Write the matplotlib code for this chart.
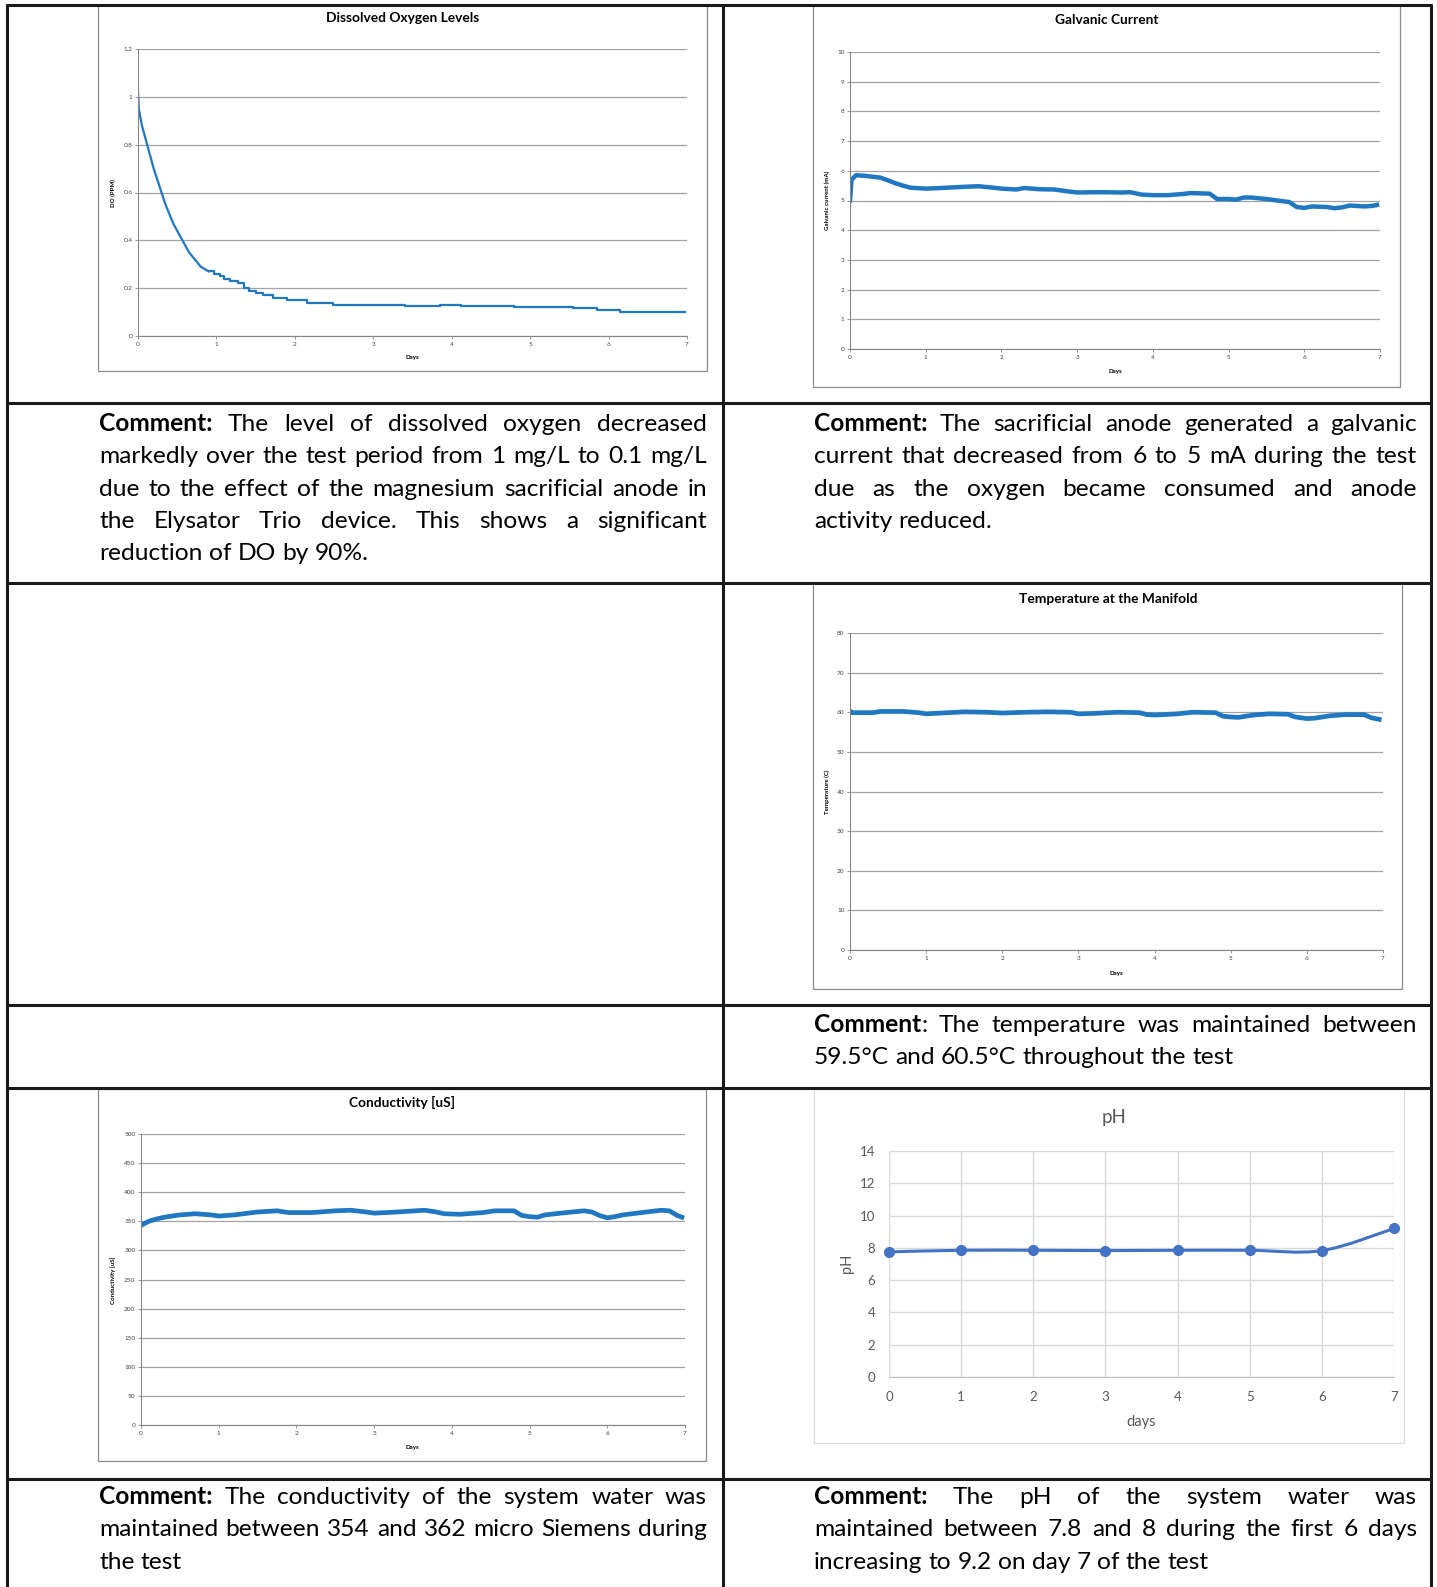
import matplotlib
matplotlib.use('Agg')
import matplotlib.pyplot as plt
from matplotlib.patches import Rectangle, PathPatch
from matplotlib.path import Path

W, H = 1437, 1587
FONT = 'Lato'

# ---- values ----
days = [0, 1, 2, 3, 4, 5, 6, 7]

# dissolved oxygen, smooth decay part then stepped part
do_curve_days = [0.00, 0.01, 0.05, 0.10, 0.15, 0.20, 0.25, 0.30, 0.35, 0.40, 0.45, 0.50,
                 0.55, 0.60, 0.65, 0.70, 0.75, 0.80, 0.85, 0.90]
do_curve_ppm = [1.02, 0.95, 0.88, 0.82, 0.76, 0.70, 0.65, 0.60, 0.55, 0.51, 0.47, 0.44,
                0.41, 0.38, 0.35, 0.33, 0.31, 0.29, 0.28, 0.27]
do_step_days = [0.90, 0.97, 1.04, 1.10, 1.17, 1.27, 1.35, 1.42, 1.50, 1.60, 1.72, 1.90,
                2.15, 2.48, 3.40, 3.85, 4.12, 4.80, 5.55, 5.85, 6.15, 6.97]
do_step_ppm = [0.27, 0.26, 0.25, 0.24, 0.23, 0.22, 0.20, 0.19, 0.18, 0.17, 0.16, 0.15,
               0.14, 0.13, 0.125, 0.13, 0.125, 0.12, 0.115, 0.11, 0.10, 0.10]

# galvanic current (mA)
gc_days = [0.00, 0.02, 0.08, 0.20, 0.30, 0.40, 0.50, 0.60, 0.70, 0.80, 1.00, 1.20, 1.50,
           1.70, 1.90, 2.00, 2.20, 2.30, 2.50, 2.70, 2.90, 3.00, 3.30, 3.60, 3.70, 3.85,
           4.00, 4.20, 4.40, 4.50, 4.75, 4.85, 5.00, 5.10, 5.20, 5.30, 5.50, 5.70, 5.80,
           5.90, 6.00, 6.10, 6.30, 6.40, 6.50, 6.60, 6.80, 6.90, 6.96]
gc_ma = [5.00, 5.70, 5.85, 5.83, 5.80, 5.77, 5.68, 5.58, 5.50, 5.43, 5.40, 5.42, 5.46,
         5.48, 5.43, 5.40, 5.37, 5.42, 5.38, 5.37, 5.30, 5.27, 5.28, 5.27, 5.28, 5.20,
         5.18, 5.18, 5.22, 5.25, 5.23, 5.05, 5.05, 5.03, 5.10, 5.10, 5.05, 4.98, 4.95,
         4.78, 4.75, 4.80, 4.78, 4.74, 4.77, 4.83, 4.80, 4.82, 4.85]

# temperature at the manifold (C)
tm_days = [0.00, 0.02, 0.10, 0.30, 0.40, 0.70, 0.90, 1.00, 1.20, 1.50, 1.80, 2.00, 2.30,
           2.60, 2.90, 3.00, 3.20, 3.50, 3.80, 3.90, 4.00, 4.30, 4.50, 4.80, 4.90, 5.00,
           5.10, 5.30, 5.50, 5.75, 5.85, 6.00, 6.10, 6.30, 6.50, 6.75, 6.85, 6.95]
tm_c = [60.3, 59.9, 59.9, 59.9, 60.2, 60.2, 59.9, 59.6, 59.8, 60.1, 60.0, 59.8, 60.0,
        60.1, 60.0, 59.6, 59.7, 60.0, 59.9, 59.4, 59.3, 59.6, 60.0, 59.9, 59.0, 58.8,
        58.7, 59.3, 59.6, 59.5, 58.8, 58.4, 58.5, 59.1, 59.4, 59.4, 58.6, 58.2]

# conductivity (uS)
cd_days = [0.00, 0.10, 0.20, 0.30, 0.50, 0.70, 0.90, 1.00, 1.20, 1.50, 1.75, 1.90, 2.20,
           2.50, 2.70, 2.90, 3.00, 3.30, 3.65, 3.80, 3.90, 4.10, 4.40, 4.55, 4.80, 4.90,
           5.00, 5.10, 5.20, 5.40, 5.70, 5.80, 5.90, 6.00, 6.10, 6.20, 6.50, 6.70, 6.80,
           6.90, 6.96]
cd_us = [343, 350, 354, 357, 361, 363, 361, 359, 361, 366, 368, 365, 365,
         368, 369, 366, 364, 366, 369, 366, 363, 362, 365, 368, 368, 360,
         358, 357, 361, 364, 368, 366, 360, 356, 358, 361, 366, 369, 368,
         360, 357]

# pH, one reading a day
ph_vals = [7.75, 7.85, 7.85, 7.83, 7.85, 7.85, 7.83, 9.2]

comments = {
    'do': ["**Comment:** The level of dissolved oxygen decreased",
           "markedly over the test period from 1 mg/L to 0.1 mg/L",
           "due to the effect of the magnesium sacrificial anode in",
           "the Elysator Trio device. This shows a significant",
           "reduction of DO by 90%."],
    'gc': ["**Comment:**  The sacrificial anode generated a galvanic",
           "current that decreased from 6 to 5 mA during the test",
           "due as the oxygen became consumed and anode",
           "activity reduced."],
    'tm': ["**Comment**:  The temperature was maintained between",
           "59.5°C and 60.5°C throughout the test"],
    'cd': ["**Comment:**  The conductivity of the system water was",
           "maintained between 354 and 362 micro Siemens during",
           "the test"],
    'ph': ["**Comment:**  The pH of the system water was",
           "maintained between 7.8 and 8 during the first 6 days",
           "increasing to 9.2 on day 7 of the test"],
}

BLUE = '#1f78c1'

fig = plt.figure(figsize=(W / 100, H / 100), dpi=100)
bg = fig.add_axes([0, 0, 1, 1])
bg.set_xlim(0, W)
bg.set_ylim(H, 0)
bg.axis('off')


def px_axes(x0, y0, x1, y1):
    ax = fig.add_axes([x0 / W, 1 - y1 / H, (x1 - x0) / W, (y1 - y0) / H])
    ax.set_facecolor('none')
    return ax


# table rules
for x in [7, 723, 1431]:
    bg.plot([x, x], [4, H], color='#1a1a1a', lw=2.2, solid_capstyle='butt', zorder=5)
for y in [5, 403, 583, 1005, 1088, 1479]:
    bg.plot([6, 1432], [y, y], color='#1a1a1a', lw=2.2, solid_capstyle='butt', zorder=5)

# chart frames
for (x0, y0, x1, y1, ec) in [(98, 5, 707, 371, '#8c8c8c'), (813, 5, 1400, 387, '#8c8c8c'),
                             (813, 583, 1402, 989, '#8c8c8c'), (98, 1089, 706, 1461, '#8c8c8c'),
                             (814, 1088, 1404, 1443, '#dcdcdc')]:
    bg.add_patch(Rectangle((x0, y0), x1 - x0, y1 - y0, facecolor='white', edgecolor=ec,
                           lw=0.9, zorder=1))


def excel_chart(box, yticks, ylabels, title, ylabel, title_xy, ylab_xy, days_xy):
    ax = px_axes(*box)
    ax.set_xlim(0, 7)
    ax.set_ylim(yticks[0], yticks[-1])
    ax.set_xticks(days)
    ax.set_yticks(yticks)
    ax.set_yticklabels(ylabels)
    for s in ['top', 'right']:
        ax.spines[s].set_visible(False)
    for s in ['left', 'bottom']:
        ax.spines[s].set_color('#868686')
        ax.spines[s].set_linewidth(0.8)
    ax.yaxis.grid(True, color='#a3a3a3', lw=0.9)
    ax.set_axisbelow(True)
    ax.tick_params(direction='out', length=2.5, width=0.6, color='#868686',
                   labelsize=4.6, pad=1.5, labelcolor='#404040')
    for lab in ax.get_xticklabels() + ax.get_yticklabels():
        lab.set_family(FONT)
    bg.text(title_xy[0], title_xy[1], title, ha='center', va='center', fontsize=9.9,
            fontweight='bold', family=FONT, zorder=3)
    bg.text(ylab_xy[0], ylab_xy[1], ylabel, ha='center', va='center', rotation=90,
            fontsize=4.4, fontweight='bold', family=FONT, zorder=3)
    bg.text(days_xy[0], days_xy[1], 'Days', ha='center', va='center', fontsize=4.4,
            fontweight='bold', family=FONT, zorder=3)
    return ax


# dissolved oxygen
ax1 = excel_chart((138, 49, 687, 336), [0, 0.2, 0.4, 0.6, 0.8, 1.0, 1.2],
                  ['0', '0.2', '0.4', '0.6', '0.8', '1', '1.2'],
                  'Dissolved Oxygen Levels', 'DO (PPM)', (403, 18), (113, 193), (412, 357))
ax1.plot(do_curve_days, do_curve_ppm, color=BLUE, lw=1.6)
ax1.plot(do_step_days, do_step_ppm, color=BLUE, lw=1.6, drawstyle='steps-post')

# galvanic current
ax2 = excel_chart((850, 52, 1380, 349), list(range(11)), [str(i) for i in range(11)],
                  'Galvanic Current', 'Galvanic current (mA)', (1107, 20), (827, 200),
                  (1115, 371))
ax2.plot(gc_days, gc_ma, color=BLUE, lw=3.2)

# temperature
ax3 = excel_chart((850, 633, 1383, 950), list(range(0, 81, 10)),
                  [str(i) for i in range(0, 81, 10)],
                  'Temperature at the Manifold', 'Temperature (C)', (1108, 599), (827, 792),
                  (1116, 973))
ax3.plot(tm_days, tm_c, color=BLUE, lw=3.4)

# conductivity
ax4 = excel_chart((141, 1134, 685, 1425), list(range(0, 501, 50)),
                  [str(i) for i in range(0, 501, 50)],
                  'Conductivity [uS]', 'Conductivity [uS]', (402, 1102), (113, 1280),
                  (412, 1447))
ax4.plot(cd_days, cd_us, color=BLUE, lw=3.4)

# pH chart (newer Excel style)
ax5 = px_axes(889, 1151, 1394, 1377)
ax5.set_xlim(0, 7)
ax5.set_ylim(0, 14)
ax5.set_xticks(days)
ax5.set_yticks(range(0, 15, 2))
for s in ['top', 'right', 'left']:
    ax5.spines[s].set_visible(False)
ax5.spines['bottom'].set_color('#bfbfbf')
ax5.grid(True, color='#d9d9d9', lw=1.0)
ax5.set_axisbelow(True)
ax5.tick_params(length=0, labelsize=9.5, labelcolor='#595959', pad=10)
for lab in ax5.get_xticklabels() + ax5.get_yticklabels():
    lab.set_family(FONT)

# smoothed line like Excel (Catmull-Rom style bezier through the points)
pts = list(zip(days, ph_vals))
verts = [pts[0]]
codes = [Path.MOVETO]
for i in range(len(pts) - 1):
    p0 = pts[i - 1] if i > 0 else pts[i]
    p1, p2 = pts[i], pts[i + 1]
    p3 = pts[i + 2] if i + 2 < len(pts) else pts[i + 1]
    c1 = (p1[0] + (p2[0] - p0[0]) / 6, p1[1] + (p2[1] - p0[1]) / 6)
    c2 = (p2[0] - (p3[0] - p1[0]) / 6, p2[1] - (p3[1] - p1[1]) / 6)
    verts += [c1, c2, p2]
    codes += [Path.CURVE4] * 3
ax5.add_patch(PathPatch(Path(verts, codes), facecolor='none', edgecolor='#4472c4', lw=2.2,
                        clip_on=False))
ax5.plot(days, ph_vals, 'o', color='#4472c4', ms=7, clip_on=False)
bg.text(1114, 1118, 'pH', ha='center', va='center', fontsize=13.5, color='#595959',
        family=FONT, zorder=3)
bg.text(847, 1263, 'pH', ha='center', va='center', rotation=90, fontsize=10.5,
        color='#595959', family=FONT, zorder=3)
bg.text(1141, 1422, 'days', ha='center', va='center', fontsize=10.5, color='#595959',
        family=FONT, zorder=3)

# ---- justified comment text ----
renderer = fig.canvas.get_renderer()


def split_word(word):
    parts = word.split('**')
    return [(p, 'bold' if i % 2 else 'normal') for i, p in enumerate(parts) if p]


def seg_width(text, weight, size):
    t = bg.text(0, 0, text, fontsize=size, fontweight=weight, family=FONT)
    w = t.get_window_extent(renderer).width
    t.remove()
    return w


def word_width(word, size):
    return sum(seg_width(s, wt, size) for s, wt in split_word(word))


def space_width(size):
    return seg_width('a a', 'normal', size) - seg_width('aa', 'normal', size)


cols = {'do': (99, 707, 431), 'gc': (814, 1417, 431), 'tm': (814, 1417, 1032),
        'cd': (99, 707, 1504), 'ph': (814, 1417, 1504)}

# pick one size so the widest full line just fits its column
ref = 20
ratio = 0
for key, lines in comments.items():
    x0, x1, _ = cols[key]
    for line in lines[:-1]:
        words = line.split()
        nat = sum(word_width(w, ref) for w in words) + space_width(ref) * (len(words) - 1)
        ratio = max(ratio, nat / (x1 - x0))
size = ref / ratio * 0.99
sp = space_width(size)

for key, lines in comments.items():
    x0, x1, ybase = cols[key]
    for n, line in enumerate(lines):
        words = line.split()
        widths = [word_width(w, size) for w in words]
        y = ybase + n * 32.3
        if n == len(lines) - 1 or len(words) == 1:
            gap = sp
        else:
            gap = (x1 - x0 - sum(widths)) / (len(words) - 1)
        x = x0
        for w, ww in zip(words, widths):
            xx = x
            for s, wt in split_word(w):
                bg.text(xx, y, s, fontsize=size, fontweight=wt, family=FONT,
                        va='baseline', ha='left', zorder=3)
                xx += seg_width(s, wt, size)
            x += ww + gap

fig.savefig('out.png', dpi=100)
